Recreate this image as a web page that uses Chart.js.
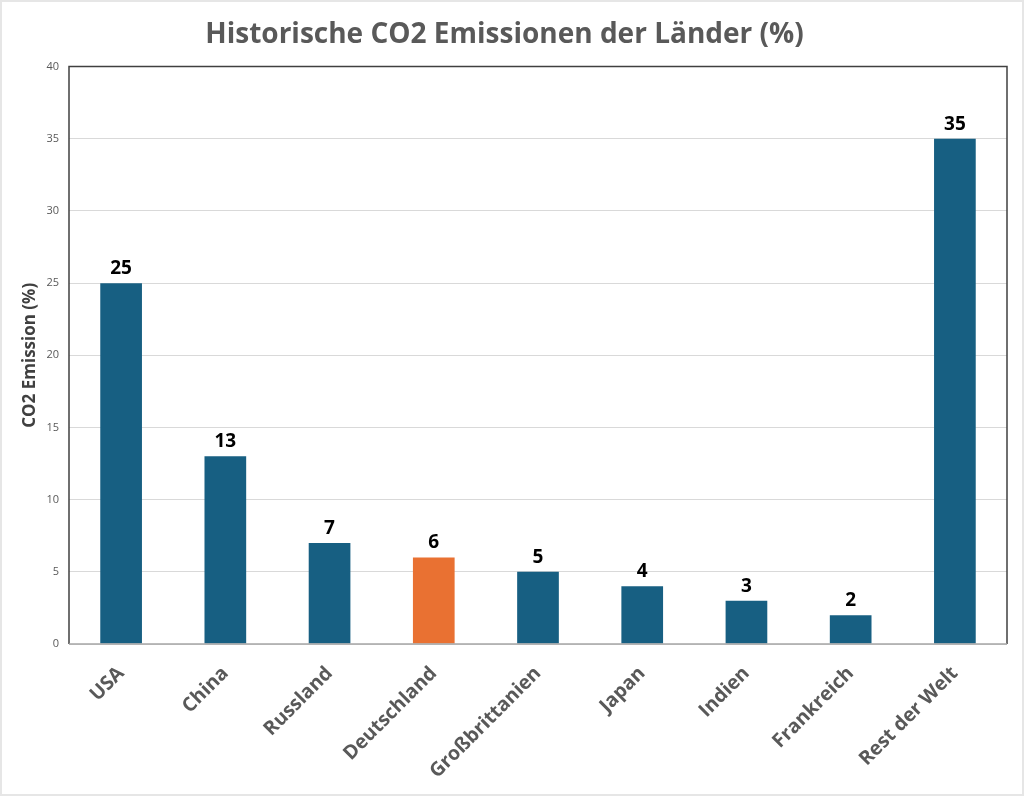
<!DOCTYPE html>
<html>
<head>
<meta charset="utf-8">
<script src="https://cdn.jsdelivr.net/npm/chart.js@4"></script>
<style>
  html, body { margin: 0; padding: 0; background: #fff; }
  #wrap { width: 1024px; height: 796px; box-sizing: border-box; border: 2px solid #e6e6e6; }
</style>
</head>
<body>
<div id="wrap"><canvas id="grafica_co2" width="1020" height="792"></canvas></div>
<script>
const laender = ['USA', 'China', 'Russland', 'Deutschland', 'Großbrittanien', 'Japan', 'Indien', 'Frankreich', 'Rest der Welt'];
const emission = [25, 13, 7, 6, 5, 4, 3, 2, 35];
const farben = ['#175f82', '#175f82', '#175f82', '#e97132', '#175f82', '#175f82', '#175f82', '#175f82', '#175f82'];

// rahmen um den plotbereich
const rahmen = {
  id: 'rahmen',
  afterDraw(chart) {
    const a = chart.chartArea;
    const ctx = chart.ctx;
    ctx.save();
    ctx.strokeStyle = '#404040';
    ctx.lineWidth = 1.5;
    ctx.beginPath();
    ctx.moveTo(a.left, a.bottom);
    ctx.lineTo(a.left, a.top);
    ctx.lineTo(a.right, a.top);
    ctx.lineTo(a.right, a.bottom);
    ctx.stroke();
    ctx.strokeStyle = '#a6a6a6';
    ctx.beginPath();
    ctx.moveTo(a.left, a.bottom);
    ctx.lineTo(a.right, a.bottom);
    ctx.stroke();
    ctx.restore();
  }
};

// werte ueber den balken
const werte = {
  id: 'werte',
  afterDatasetsDraw(chart) {
    const ctx = chart.ctx;
    const meta = chart.getDatasetMeta(0);
    ctx.save();
    ctx.font = 'bold 19px "Open Sans"';
    ctx.fillStyle = '#000';
    ctx.textAlign = 'center';
    ctx.textBaseline = 'bottom';
    meta.data.forEach((bar, i) => {
      ctx.fillText(emission[i], bar.x, bar.y - 5);
    });
    ctx.restore();
  }
};

const ctx = document.getElementById('grafica_co2').getContext('2d');
new Chart(ctx, {
  type: 'bar',
  data: {
    labels: laender,
    datasets: [{
      label: 'CO2 Emission (%)',
      data: emission,
      backgroundColor: farben,
      barPercentage: 0.8,
      categoryPercentage: 0.5
    }]
  },
  options: {
    responsive: false,
    animation: false,
    layout: { padding: { left: 0, right: 15, top: 0, bottom: 0 } },
    plugins: {
      legend: { display: false },
      tooltip: { enabled: false },
      title: {
        display: true,
        text: 'Historische CO2 Emissionen der Länder (%)',
        color: '#595959',
        font: { family: '"Open Sans"', size: 28, weight: 'bold' },
        padding: { top: 16, bottom: 15 }
      }
    },
    scales: {
      x: {
        grid: { display: false },
        border: { display: false },
        ticks: {
          color: '#595959',
          minRotation: 45,
          maxRotation: 45,
          padding: 10,
          font: { family: '"Open Sans"', size: 19.5, weight: 'bold' }
        },
        afterFit(scale) { scale.height = 150; }
      },
      y: {
        min: 0,
        max: 40,
        ticks: {
          stepSize: 5,
          color: '#595959',
          padding: 10,
          font: { family: '"Open Sans"', size: 11 }
        },
        grid: { color: '#d9d9d9', drawTicks: false },
        border: { display: false },
        title: {
          display: true,
          text: 'CO2 Emission (%)',
          color: '#404040',
          font: { family: '"Open Sans"', size: 17, weight: 'bold' },
          padding: { top: 18, bottom: 0 }
        },
        afterFit(scale) { scale.width = 67; }
      }
    }
  },
  plugins: [rahmen, werte]
});
</script>
</body>
</html>
